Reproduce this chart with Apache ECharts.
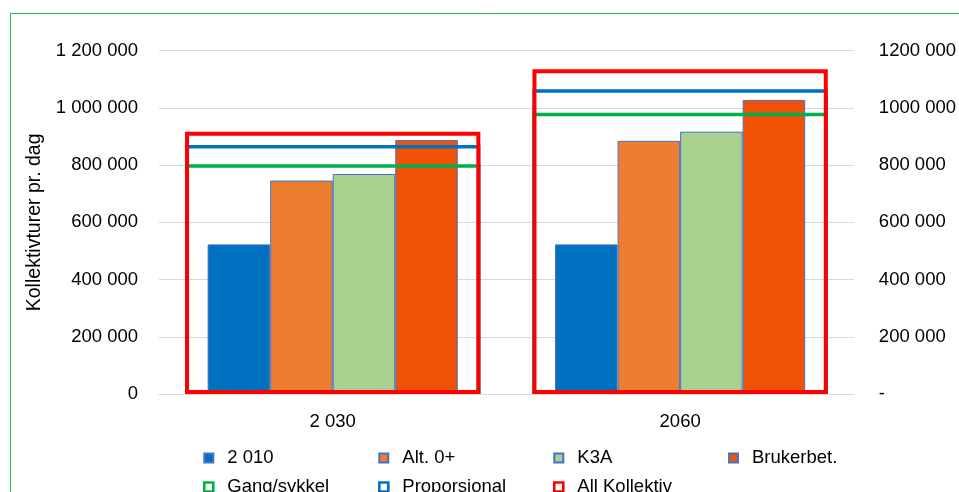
<!DOCTYPE html>
<html>
<head>
<meta charset="utf-8">
<script src="https://cdn.jsdelivr.net/npm/echarts@6/dist/echarts.min.js"></script>
<style>
html,body{margin:0;padding:0;background:#fff;}
#chart{width:959px;height:492px;}
</style>
</head>
<body>
<div id="chart"></div>
<script>
// ---- data ----
const categories = ['2 030', '2060'];
const s2010 = [523000, 523000];
const sAlt0 = [746000, 885000];
const sK3A = [769000, 917000];
const sBruker = [888000, 1028000];
const sGang = [803000, 983000];
const sProp = [870000, 1065000];
const sAll = [917000, 1135000];
const yTicks = [0, 200000, 400000, 600000, 800000, 1000000, 1200000];

const FONT = 'Liberation Sans';
const FS = 18.5;

function fmtLeft(v) {
  return String(v).replace(/\B(?=(\d{3})+(?!\d))/g, ' ');
}
function fmtRight(v) {
  if (v === 0) return '-';
  const k = Math.floor(v / 1000);
  return k + ' ' + String(v % 1000).padStart(3, '0');
}

const barBorder = { borderColor: '#4472C4', borderWidth: 1 };
const primaryCommon = {
  type: 'bar', xAxisIndex: 0, yAxisIndex: 0,
  barGap: '0%', barCategoryGap: '28%'
};
const secondaryCommon = {
  type: 'bar', xAxisIndex: 1, yAxisIndex: 1,
  barGap: '-100%', barWidth: '85%'
};
const hollowStyle = (c) => ({ icon: 'rect', itemStyle: { color: '#fff', borderColor: c, borderWidth: 2.6 } });

function legendCol(left, items) {
  return {
    orient: 'vertical', left: left, top: 448, height: 120, padding: 0,
    itemWidth: 9, itemHeight: 9, itemGap: 9,
    icon: 'rect',
    selectedMode: false,
    textStyle: { fontFamily: FONT, fontSize: FS, color: '#000', lineHeight: 20, padding: [0, 0, 0, 9] },
    data: items
  };
}

const chart = echarts.init(document.getElementById('chart'), null, { renderer: 'canvas' });
chart.setOption({
  animation: false,
  backgroundColor: '#fff',
  graphic: [{
    type: 'rect', silent: true,
    shape: { x: 10.5, y: 13.5, width: 1000, height: 600 },
    style: { fill: 'none', stroke: '#33BB55', lineWidth: 1 }
  }],
  grid: { left: 159, right: 97, top: 50.7, bottom: 98, containLabel: false },
  xAxis: [{
    type: 'category', data: categories,
    axisLine: { lineStyle: { color: '#D9D9D9', width: 1 } },
    axisTick: { show: false },
    axisLabel: { fontFamily: FONT, fontSize: FS, color: '#000', margin: 18 }
  }, {
    type: 'category', data: categories, show: false
  }],
  yAxis: [{
    type: 'value', min: 0, max: 1200000, interval: 200000,
    name: 'Kollektivturer pr. dag', nameLocation: 'middle', nameGap: 107,
    nameTextStyle: { fontFamily: FONT, fontSize: 19.5, color: '#000' },
    axisLine: { show: false }, axisTick: { show: false },
    splitLine: { lineStyle: { color: '#D9D9D9', width: 1 } },
    axisLabel: { fontFamily: FONT, fontSize: FS, color: '#000', margin: 21, formatter: fmtLeft }
  }, {
    type: 'value', min: 0, max: 1200000, interval: 200000, position: 'right',
    axisLine: { show: false }, axisTick: { show: false }, splitLine: { show: false },
    axisLabel: { fontFamily: FONT, fontSize: FS, color: '#000', margin: 25, formatter: fmtRight }
  }],
  legend: [
    legendCol(203, [
      { name: '2 010' },
      Object.assign({ name: 'Gang/sykkel' }, hollowStyle('#00B050'))
    ]),
    legendCol(378, [
      { name: 'Alt. 0+' },
      Object.assign({ name: 'Proporsjonal' }, hollowStyle('#0070C0'))
    ]),
    legendCol(553, [
      { name: 'K3A' },
      Object.assign({ name: 'All Kollektiv' }, hollowStyle('#FF0000'))
    ]),
    legendCol(728, [
      { name: 'Brukerbet.' }
    ])
  ],
  series: [
    Object.assign({ name: '2 010', data: s2010, itemStyle: Object.assign({ color: '#0070C0' }, barBorder) }, primaryCommon),
    Object.assign({ name: 'Alt. 0+', data: sAlt0, itemStyle: Object.assign({ color: '#ED7D31' }, barBorder) }, primaryCommon),
    Object.assign({ name: 'K3A', data: sK3A, itemStyle: Object.assign({ color: '#A9D18E' }, barBorder) }, primaryCommon),
    Object.assign({ name: 'Brukerbet.', data: sBruker, itemStyle: Object.assign({ color: '#F05308' }, barBorder) }, primaryCommon),
    Object.assign({ name: 'Gang/sykkel', data: sGang, z: 3,
      itemStyle: { color: 'rgba(0,0,0,0)', borderColor: '#00B050', borderWidth: 3.5 } }, secondaryCommon),
    Object.assign({ name: 'Proporsjonal', data: sProp, z: 4,
      itemStyle: { color: 'rgba(0,0,0,0)', borderColor: '#0070C0', borderWidth: 3.5 } }, secondaryCommon),
    Object.assign({ name: 'All Kollektiv', data: sAll, z: 5,
      itemStyle: { color: 'rgba(0,0,0,0)', borderColor: '#FF0000', borderWidth: 4 } }, secondaryCommon)
  ]
});
</script>
</body>
</html>
